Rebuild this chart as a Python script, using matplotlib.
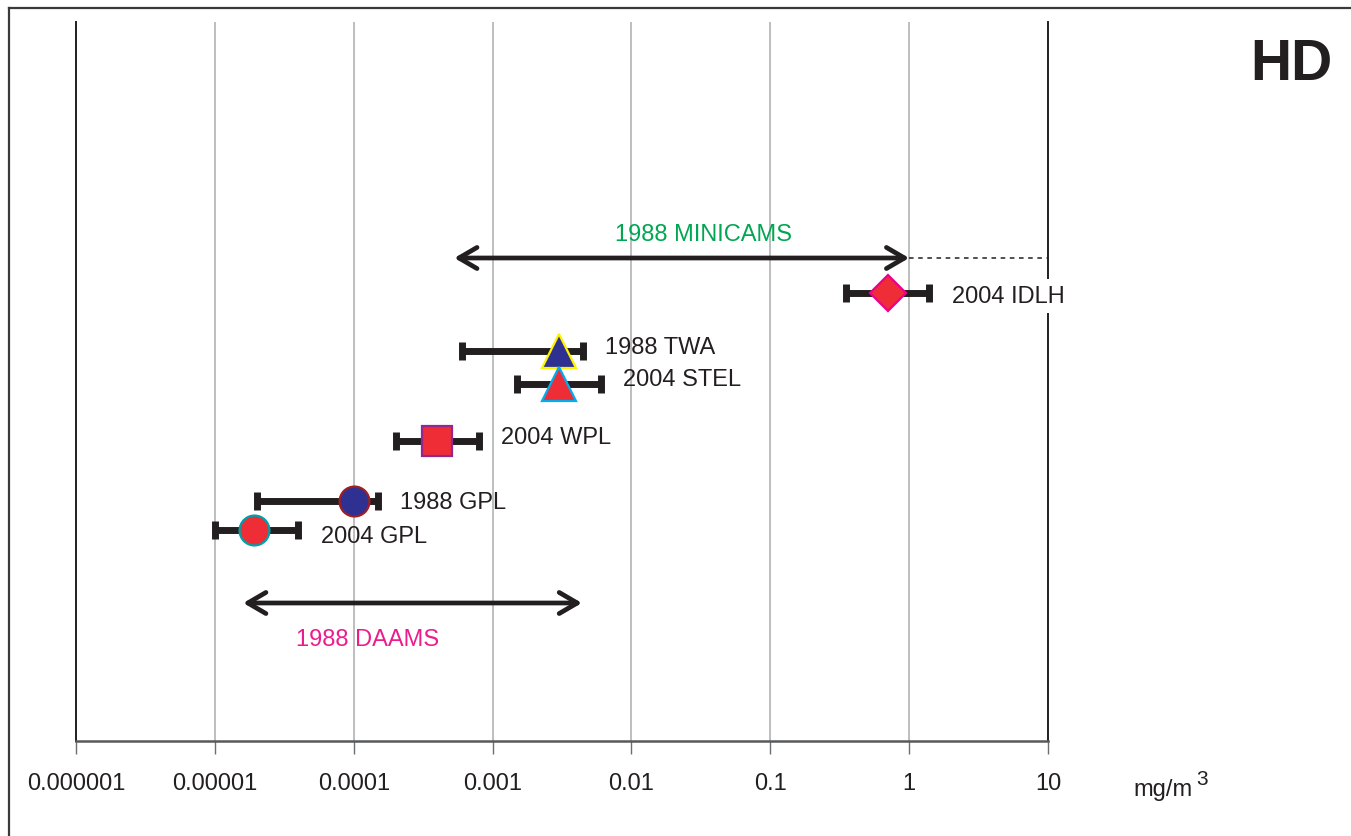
import matplotlib
matplotlib.use('Agg')
import matplotlib.pyplot as plt
from matplotlib.lines import Line2D
from matplotlib.ticker import NullLocator, FixedLocator, FixedFormatter

plt.rcParams['font.family'] = ['Liberation Sans', 'DejaVu Sans']

# ---------------- data ----------------
tick_values = [1e-6, 1e-5, 1e-4, 1e-3, 1e-2, 1e-1, 1, 10]
tick_labels = ['0.000001', '0.00001', '0.0001', '0.001', '0.01', '0.1', '1', '10']

series_names = ['2004 IDLH', '1988 TWA', '2004 STEL', '2004 WPL', '1988 GPL', '2004 GPL']
series_values = [0.7, 0.003, 0.003, 0.0004, 0.0001, 0.000019]
series_low = [0.35, 0.0006, 0.0015, 0.0002, 0.00002, 0.00001]
series_high = [1.4, 0.0045, 0.006, 0.0008, 0.00015, 0.00004]
series_rows = [44.8, 39.0, 35.7, 30.0, 24.0, 21.1]
label_rows = [44.5, 39.4, 36.2, 30.4, 23.9, 20.5]
markers = ['D', '^', '^', 's', 'o', 'o']
face_colors = ['#EE2D36', '#2E3192', '#EE2D36', '#EE2D36', '#2E3192', '#EE2D36']
edge_colors = ['#EC008C', '#FFF200', '#00AEEF', '#92278F', '#9E1F23', '#00A0A8']
marker_sizes = [18.5, 24, 24, 22, 21.5, 21.5]

range_names = ['1988 MINICAMS', '1988 DAAMS']
range_low = [0.00053, 0.000016]
range_high = [1.0, 0.0044]
range_rows = [48.3, 13.8]
range_label_x = [0.033, 0.000126]
range_label_rows = [50.7, 10.2]
range_label_colors = ['#00A651', '#EC1C8C']
minicams_extension_end = 10

unit_label = 'mg/m'
unit_exp = '3'
title = 'HD'

# ---------------- figure ----------------
W, H = 1351, 837
fig = plt.figure(figsize=(W / 100, H / 100), dpi=100)
ax = fig.add_axes([76 / W, 1 - 742 / H, (1048 - 76) / W, (742 - 23) / H])

ink = '#231F20'

ax.set_xscale('log')
ax.set_xlim(1e-6, 10)
ax.set_ylim(0, 71.9)

ax.xaxis.set_major_locator(FixedLocator(tick_values))
ax.xaxis.set_major_formatter(FixedFormatter(tick_labels))
ax.xaxis.set_minor_locator(NullLocator())
ax.set_yticks([])
ax.tick_params(axis='x', length=9, width=1.0, color='#6D6E71', pad=13,
               labelsize=17, labelcolor=ink)

ax.grid(axis='x', color='#BCBEC0', lw=1.4, zorder=0)
ax.set_axisbelow(True)
ax.spines['top'].set_visible(False)
ax.spines['left'].set_color(ink)
ax.spines['left'].set_linewidth(1.4)
ax.spines['right'].set_color(ink)
ax.spines['right'].set_linewidth(1.4)
ax.spines['bottom'].set_color('#58595B')
ax.spines['bottom'].set_linewidth(1.8)

# ranges (double arrows)
for lo, hi, r in zip(range_low, range_high, range_rows):
    ax.annotate('', xy=(hi, r), xytext=(lo, r),
                arrowprops=dict(arrowstyle='<->,head_length=0.65,head_width=0.38',
                                lw=3.4, color=ink, shrinkA=0, shrinkB=0,
                                mutation_scale=20, capstyle='round', joinstyle='round'),
                zorder=4)
for name, x, r, c in zip(range_names, range_label_x, range_label_rows, range_label_colors):
    ax.text(x, r, name, color=c, fontsize=17, ha='center', va='center', zorder=5)

# dotted extension of MINICAMS
ax.plot([range_high[0], minicams_extension_end], [range_rows[0], range_rows[0]],
        ls=(0, (3, 3)), lw=1.1, color=ink, zorder=3)

# error bars + markers
for i in range(len(series_names)):
    v = series_values[i]
    ax.errorbar([v], [series_rows[i]],
                xerr=[[v - series_low[i]], [series_high[i] - v]],
                fmt='none', ecolor=ink, elinewidth=5, capsize=6.2, capthick=5,
                zorder=5 + 2 * i)
    ax.plot([v], [series_rows[i]], marker=markers[i], ms=marker_sizes[i],
            mfc=face_colors[i], mec=edge_colors[i], mew=1.6, ls='none',
            zorder=6 + 2 * i)
    bbox = dict(facecolor='white', edgecolor='none', pad=4) if i == 0 else None
    ax.annotate(series_names[i], xy=(series_high[i], label_rows[i]),
                xytext=(16, 0), textcoords='offset points',
                fontsize=17, color=ink, ha='left', va='center', zorder=30,
                bbox=bbox)

# title and unit label
fig.text(1332 / W, 1 - 80 / H, title, fontsize=41, fontweight='bold', color=ink,
         ha='right', va='baseline')
fig.text(1133 / W, 1 - 796 / H, unit_label, fontsize=17, color=ink,
         ha='left', va='baseline')
fig.text(1196 / W, 1 - 785 / H, unit_exp, fontsize=15, color=ink,
         ha='left', va='baseline')

# figure frame (left and top edges)
fig.add_artist(Line2D([9 / W, 9 / W], [0, 1 - 9 / H], transform=fig.transFigure,
                      color='#3A3A3A', lw=1.6))
fig.add_artist(Line2D([9 / W, 1], [1 - 9 / H, 1 - 9 / H], transform=fig.transFigure,
                      color='#3A3A3A', lw=1.6))

fig.savefig('out.png', dpi=100, facecolor='white')
